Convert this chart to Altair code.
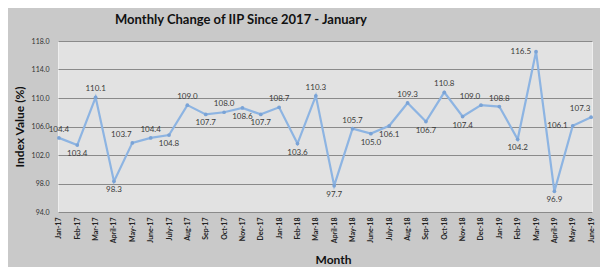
import altair as alt
import pandas as pd

months = ["Jan-17", "Feb-17", "Mar-17", "April-17", "May-17", "June-17", "July-17", "Aug-17",
          "Sep-17", "Oct-17", "Nov-17", "Dec-17", "Jan-18", "Feb-18", "Mar-18", "April-18",
          "May-18", "June-18", "July-18", "Aug-18", "Sep-18", "Oct-18", "Nov-18", "Dec-18",
          "Jan-19", "Feb-19", "Mar-19", "April-19", "May-19", "June-19"]
values = [104.4, 103.4, 110.1, 98.3, 103.7, 104.4, 104.8, 109.0, 107.7, 108.0, 108.6, 107.7,
          108.7, 103.6, 110.3, 97.7, 105.7, 105.0, 106.1, 109.3, 106.7, 110.8, 107.4, 109.0,
          108.8, 104.2, 116.5, 96.9, 106.1, 107.3]
label_pos = ["above", "below", "above", "below", "aboveleft", "above", "below", "above",
             "below", "above", "below", "below", "above", "below", "above", "below",
             "above", "below", "below", "above", "below", "above", "below", "aboveleft",
             "above", "below", "left", "below", "left", "aboveleft"]
y_ticks = [94, 98, 102, 106, 110, 114, 118]

df = pd.DataFrame({"Month": months, "Value": values, "Pos": label_pos})

FONT = "Lato"
x = alt.X("Month:O", sort=months, scale=alt.Scale(type="point", padding=0.05),
          axis=alt.Axis(title="Month", labelAngle=-90, labelFontSize=7, labelColor="#222222",
                        labelFont=FONT, labelFontWeight="bold", labelPadding=5, ticks=False,
                        domain=False, grid=False, titleFont=FONT, titleFontSize=12,
                        titleFontWeight="bold", titleColor="#111111", titleY=54,
                        titleBaseline="bottom", titleX=275))
y = alt.Y("Value:Q", scale=alt.Scale(domain=[94, 118], nice=False, zero=False),
          axis=alt.Axis(title="Index Value (%)", values=y_ticks, tickCount=7,
                        format=".1f", labelFontSize=7, labelColor="#333333", labelFont=FONT,
                        labelPadding=9, labelOverlap=False, ticks=False, domain=False,
                        gridColor="#8a8a8a", gridWidth=1, titleFont=FONT, titleFontSize=12,
                        titleFontWeight="bold", titleColor="#111111", titleX=-32, titleY=85.5,
                        titleAngle=-90, titleBaseline="bottom"))

base = alt.Chart(df)
line = base.mark_line(color="#8db4e2", strokeWidth=2.2, point=alt.OverlayMarkDef(
    color="#7aa3d6", size=14, filled=True)).encode(x=x, y=y)

def labels(pos, **kw):
    return base.transform_filter(alt.datum.Pos == pos).mark_text(
        font=FONT, fontSize=8, color="#3a3a3a", **kw).encode(
        x=x, y=y, text=alt.Text("Value:Q", format=".1f"))

lab_above = labels("above", dy=-8)
lab_aboveleft = labels("aboveleft", dy=-8, dx=-11)
lab_below = labels("below", dy=9)
lab_left = labels("left", dx=-5, align="right")

chart = alt.layer(line, lab_above, lab_aboveleft, lab_below, lab_left).properties(
    width=534, height=171,
    autosize=alt.AutoSizeParams(type="none"),
    padding={"left": 50, "top": 33, "right": 8, "bottom": 55},
    background="#c9c9c9",
    title=alt.TitleParams("Monthly Change of IIP Since 2017 - January", font=FONT, fontSize=13,
                          fontWeight="bold", color="#111111", anchor="start", frame="group",
                          dx=57, offset=10),
).configure_view(fill="#e2e2e2", stroke="#eeeeee")

chart.save("out.html", embed_options={"renderer": "svg", "actions": False})
